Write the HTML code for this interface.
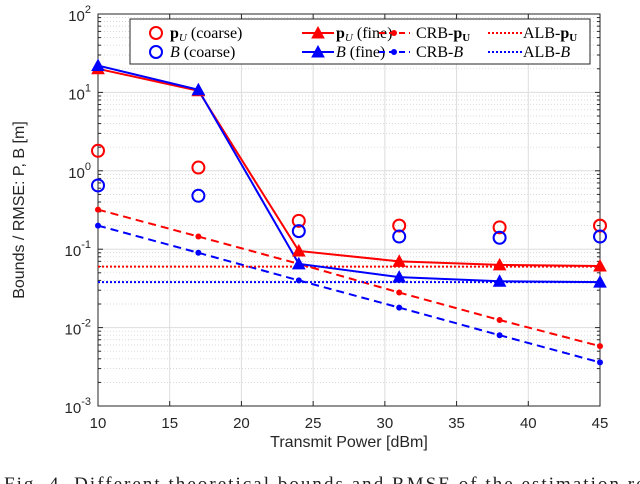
<!DOCTYPE html>
<html><head><meta charset="utf-8"><style>
body{margin:0;background:#fff;width:640px;height:484px;overflow:hidden;position:relative}
svg{position:absolute;left:0;top:0}
</style></head><body>
<svg width="640" height="484" id="c" font-family="Liberation Sans, sans-serif">
</svg>
<script>
const xs=[10,17,24,31,38,45];
const puCoarse=[1.8,1.1,0.23,0.2,0.19,0.2];
const bCoarse=[0.65,0.48,0.17,0.145,0.14,0.145];
const puFine=[20,10.5,0.095,0.07,0.063,0.061];
const bFine=[22,10.8,0.065,0.044,0.039,0.038];
const crbP=[0.32,0.145,0.065,0.028,0.0125,0.0058];
const crbB=[0.2,0.09,0.04,0.018,0.008,0.0036];
const albP=0.06, albB=0.038;
const xTicks=[10,15,20,25,30,35,40,45];
const yExp=[-3,-2,-1,0,1,2];
const L=98,R=600,T=14,B=406;
const X=v=>L+(v-10)/35*(R-L);
const Y=v=>B-(Math.log10(v)+3)/5*(B-T);
const svg=document.getElementById('c');const NS='http://www.w3.org/2000/svg';
function el(t,a,p){const e=document.createElementNS(NS,t);for(const k in a)e.setAttribute(k,a[k]);(p||svg).appendChild(e);return e;}
const g=el('g',{});
for(let e=-3;e<2;e++)for(let m=2;m<10;m++){const y=Y(m*Math.pow(10,e));el('line',{x1:L,x2:R,y1:y,y2:y,stroke:'#ccc','stroke-width':0.7,'stroke-dasharray':'1,2'},g);}
yExp.forEach(e=>{const y=Y(Math.pow(10,e));el('line',{x1:L,x2:R,y1:y,y2:y,stroke:'#ddd','stroke-width':1},g);});
xTicks.forEach(v=>{el('line',{x1:X(v),x2:X(v),y1:T,y2:B,stroke:'#ddd','stroke-width':1},g);});
const ax=el('rect',{x:L,y:T,width:R-L,height:B-T,fill:'none',stroke:'#262626','stroke-width':1});

xTicks.forEach(v=>{el('line',{x1:X(v),x2:X(v),y1:B,y2:B-5,stroke:'#262626'});el('line',{x1:X(v),x2:X(v),y1:T,y2:T+5,stroke:'#262626'});
 const t=el('text',{x:X(v),y:B+22,'font-size':15,'text-anchor':'middle',fill:'#262626'});t.textContent=v;
 });
yExp.forEach(e=>{const y=Y(Math.pow(10,e));el('line',{x1:L,x2:L+5,y1:y,y2:y,stroke:'#262626'});el('line',{x1:R,x2:R-5,y1:y,y2:y,stroke:'#262626'});
 const t=el('text',{x:L-7,y:y+7,'font-size':15,'text-anchor':'end',fill:'#262626'});t.innerHTML='10<tspan dy="-8" font-size="11">'+e+'</tspan>';
 });
for(let e=-3;e<2;e++)for(let m=2;m<10;m++){const y=Y(m*Math.pow(10,e));el('line',{x1:L,x2:L+3,y1:y,y2:y,stroke:'#262626'});el('line',{x1:R,x2:R-3,y1:y,y2:y,stroke:'#262626'});}
let t=el('text',{x:(L+R)/2,y:447,'font-size':16,'text-anchor':'middle',fill:'#262626'});t.textContent='Transmit Power [dBm]';

t=el('text',{x:0,y:0,'font-size':16,'text-anchor':'middle',fill:'#262626',transform:`translate(24,${(T+B)/2}) rotate(-90)`});t.textContent='Bounds / RMSE: P, B [m]';

t=el('text',{x:4,y:490,'font-size':19,fill:'#222','font-family':'Liberation Serif, serif',textLength:650,lengthAdjust:'spacing'});t.textContent='Fig. 4.   Different theoretical bounds and RMSE of the estimation res';

const red='#ff0000',blue='#0000ff';
function line(vals,c,dash,w,name){const p=el('polyline',{points:xs.map((x,i)=>X(x)+','+Y(vals[i])).join(' '),fill:'none',stroke:c,'stroke-width':w,'stroke-dasharray':dash});
 }
function tri(x,y,c,p){el('polygon',{points:`${x},${y-6} ${x-6},${y+5} ${x+6},${y+5}`,fill:c,stroke:c},p);}
line(crbP,red,'8,5',2,'crb-pu-line');line(crbB,blue,'8,5',2,'crb-b-line');
xs.forEach((x,i)=>{el('circle',{cx:X(x),cy:Y(crbP[i]),r:3,fill:red});el('circle',{cx:X(x),cy:Y(crbB[i]),r:3,fill:blue});});
let a=el('line',{x1:L,x2:R,y1:Y(albP),y2:Y(albP),stroke:red,'stroke-width':2,'stroke-dasharray':'2,2'});
a=el('line',{x1:L,x2:R,y1:Y(albB),y2:Y(albB),stroke:blue,'stroke-width':2,'stroke-dasharray':'2,2'});
line(puFine,red,'',2,'pu-fine-line');line(bFine,blue,'',2,'b-fine-line');
xs.forEach((x,i)=>{tri(X(x),Y(puFine[i]),red);tri(X(x),Y(bFine[i]),blue);});
xs.forEach((x,i)=>{let c=el('circle',{cx:X(x),cy:Y(puCoarse[i]),r:6,fill:'none',stroke:red,'stroke-width':2});
 
 c=el('circle',{cx:X(x),cy:Y(bCoarse[i]),r:6,fill:'none',stroke:blue,'stroke-width':2});
 });
const lg=el('g',{'font-family':'Liberation Serif, serif','font-size':16});
el('rect',{x:130,y:19,width:460,height:45,fill:'#fff',stroke:'#262626','stroke-width':1},lg);
const r1=33,r2=52;
el('circle',{cx:156,cy:r1,r:6,fill:'none',stroke:red,'stroke-width':2},lg);
el('circle',{cx:156,cy:r2,r:6,fill:'none',stroke:blue,'stroke-width':2},lg);
function txt(x,y,h){const e=el('text',{x:x,y:y+5,fill:'#000'},lg);e.innerHTML=h;}
txt(170,r1,'<tspan font-weight="bold">p</tspan><tspan font-style="italic" font-size="11" dy="3">U</tspan><tspan dy="-3"> (coarse)</tspan>');
txt(170,r2,'<tspan font-style="italic">B</tspan> (coarse)');
el('line',{x1:302,x2:334,y1:r1,y2:r1,stroke:red,'stroke-width':2},lg);tri(318,r1,red,lg);
el('line',{x1:302,x2:334,y1:r2,y2:r2,stroke:blue,'stroke-width':2},lg);tri(318,r2,blue,lg);
txt(336,r1,'<tspan font-weight="bold">p</tspan><tspan font-style="italic" font-size="11" dy="3">U</tspan><tspan dy="-3"> (fine)</tspan>');
txt(336,r2,'<tspan font-style="italic">B</tspan> (fine)');
el('line',{x1:379,x2:410,y1:r1,y2:r1,stroke:red,'stroke-width':2,'stroke-dasharray':'6,4'},lg);el('circle',{cx:394,cy:r1,r:3,fill:red},lg);
el('line',{x1:379,x2:410,y1:r2,y2:r2,stroke:blue,'stroke-width':2,'stroke-dasharray':'6,4'},lg);el('circle',{cx:394,cy:r2,r:3,fill:blue},lg);
txt(416,r1,'CRB-<tspan font-weight="bold">p</tspan><tspan font-weight="bold" font-size="11" dy="3">U</tspan>');
txt(416,r2,'CRB-<tspan font-style="italic">B</tspan>');
el('line',{x1:488,x2:522,y1:r1,y2:r1,stroke:red,'stroke-width':2,'stroke-dasharray':'2,2'},lg);
el('line',{x1:488,x2:522,y1:r2,y2:r2,stroke:blue,'stroke-width':2,'stroke-dasharray':'2,2'},lg);
txt(523,r1,'ALB-<tspan font-weight="bold">p</tspan><tspan font-weight="bold" font-size="11" dy="3">U</tspan>');
txt(523,r2,'ALB-<tspan font-style="italic">B</tspan>');
</script>
</body></html>
